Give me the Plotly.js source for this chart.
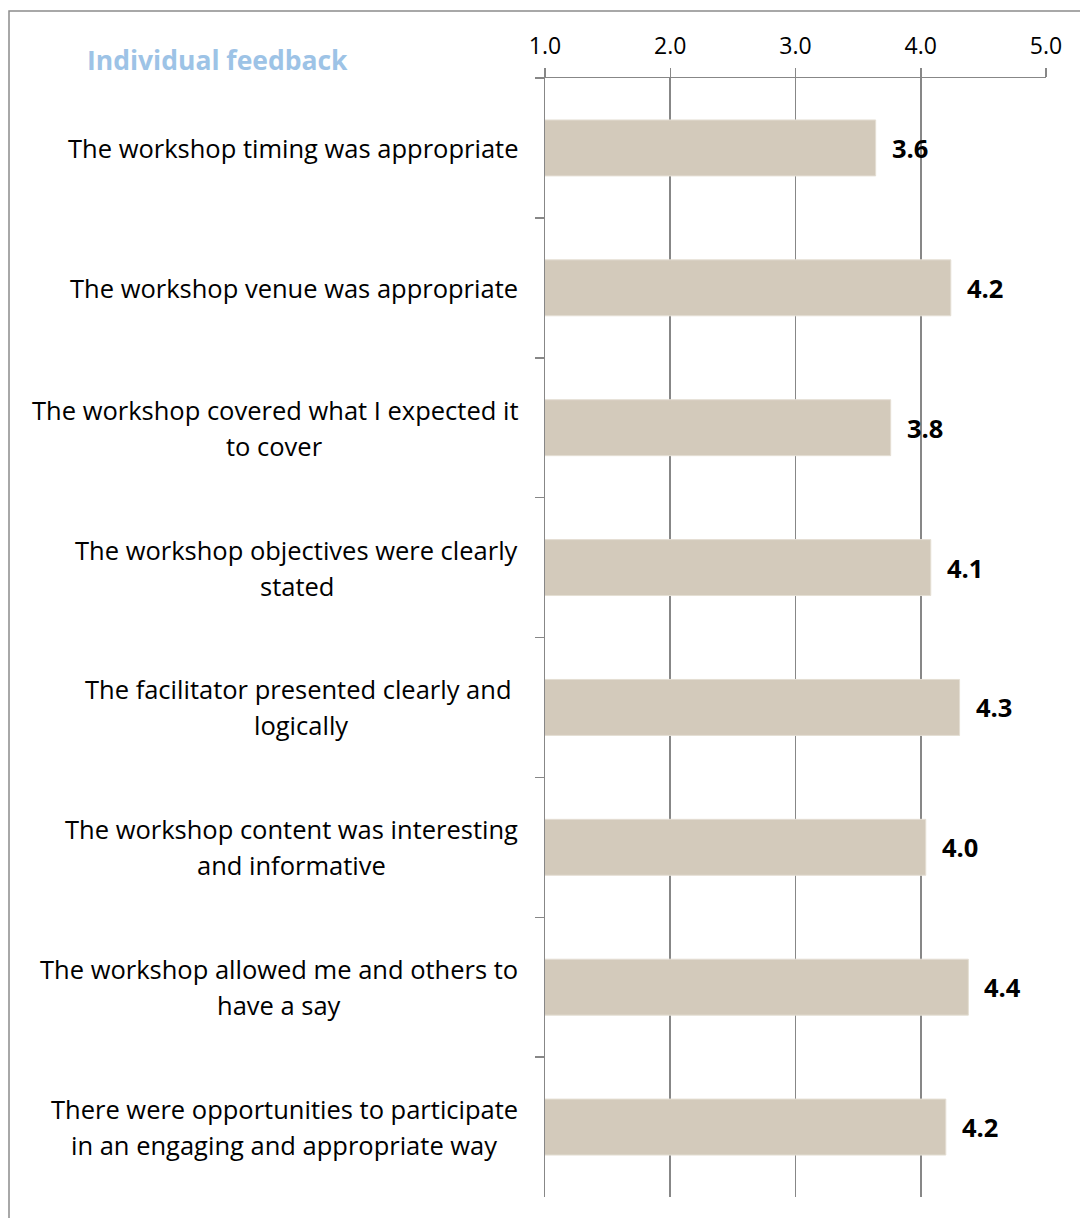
<!DOCTYPE html>
<html>
<head>
<meta charset="utf-8">
<script src="https://cdn.plot.ly/plotly-3.0.1.min.js"></script>
<style>
html,body{margin:0;padding:0;background:#fff;}
#chart{width:1080px;height:1218px;}
</style>
</head>
<body>
<div id="chart"></div>
<script>
// ---- data ----
const categories = [
  "The workshop timing was appropriate",
  "The workshop venue was appropriate",
  "The workshop covered what I expected it<br>to cover",
  "The workshop objectives were clearly<br>stated",
  "The facilitator presented clearly and\u00a0<br>logically",
  "The workshop content was interesting<br>and informative",
  "The workshop allowed me and others to<br>have a say",
  "There were opportunities to participate<br>in an engaging and appropriate way"
];
const scores = [3.64, 4.24, 3.76, 4.08, 4.31, 4.04, 4.38, 4.20];
const xTicks = [1, 2, 3, 4, 5];
const xTickLabels = ["1.0", "2.0", "3.0", "4.0", "5.0"];
const chartTitle = "Individual feedback";

// ---- styling ----
const FONT = "'Open Sans', sans-serif";
const LABEL_SIZE = 25.5;
const TICK_SIZE = 23;
const VALUE_SIZE = 25.5;
const GRID = "#878787";
const BAR = "#D3CABB";

const canvas = document.createElement("canvas");
const ctx = canvas.getContext("2d");
ctx.font = LABEL_SIZE + "px 'Open Sans'";

const annotations = [];
// category labels (centered block, right edge near axis)
categories.forEach((cat) => {
  const lines = cat.split("<br>");
  const w = Math.max(...lines.map(l => ctx.measureText(l).width));
  const lh = 36;
  lines.forEach((ln, i) => {
    annotations.push({
      xref: "paper", yref: "y", x: 0, y: cat,
      xanchor: "center", yanchor: "middle",
      xshift: -27 - w / 2,
      yshift: ((lines.length - 1) / 2 - i) * lh,
      text: ln, showarrow: false,
      font: {family: FONT, size: LABEL_SIZE, color: "#000"}
    });
  });
});
// value labels
scores.forEach((v, i) => {
  annotations.push({
    xref: "x", yref: "y", x: v, y: categories[i],
    xanchor: "left", yanchor: "middle", xshift: 14,
    text: "<b>" + v.toFixed(1) + "</b>", showarrow: false,
    font: {family: FONT, size: VALUE_SIZE, color: "#000"}
  });
});
// title
annotations.push({
  xref: "paper", yref: "paper", x: 0, y: 1,
  xanchor: "left", yanchor: "middle", xshift: -460, yshift: 18,
  text: "<b>" + chartTitle + "</b>", showarrow: false,
  font: {family: FONT, size: 26.5, color: "#9DC3E6"}
});

const trace = {
  type: "bar", orientation: "h",
  x: scores, y: categories,
  marker: {color: BAR, line: {color: "#E4DED3", width: 1}},
  hoverinfo: "skip"
};

const layout = {
  width: 1080, height: 1218,
  margin: {l: 545, r: 34, t: 78, b: 21},
  paper_bgcolor: "#fff", plot_bgcolor: "#fff",
  showlegend: false,
  bargap: 0.6,
  font: {family: FONT, size: TICK_SIZE, color: "#000"},
  xaxis: {
    side: "top", range: [1, 5],
    tickvals: xTicks, ticktext: xTickLabels,
    ticks: "outside", ticklen: 9, tickwidth: 1.5, tickcolor: GRID,
    ticklabelstandoff: 4,
    showline: true, linecolor: GRID, linewidth: 1.5,
    showgrid: true, gridcolor: GRID, gridwidth: 1.6,
    zeroline: false,
    tickfont: {family: FONT, size: TICK_SIZE, color: "#000"},
    fixedrange: true
  },
  yaxis: {
    type: "category", autorange: "reversed",
    showticklabels: false,
    ticks: "outside", tickson: "boundaries", ticklen: 9, tickwidth: 1.5, tickcolor: GRID,
    showline: true, linecolor: GRID, linewidth: 1.5,
    showgrid: false, zeroline: false, fixedrange: true
  },
  annotations: annotations,
  shapes: [{
    type: "rect", xref: "paper", yref: "paper",
    x0: (9 - 545) / 501, x1: (1090 - 545) / 501,
    y0: (1197 - 1230) / 1119, y1: (1197 - 11) / 1119,
    line: {color: "#8C8C8C", width: 1.5}, fillcolor: "rgba(0,0,0,0)"
  }]
};

Plotly.newPlot("chart", [trace], layout, {displayModeBar: false, staticPlot: true});
</script>
</body>
</html>
